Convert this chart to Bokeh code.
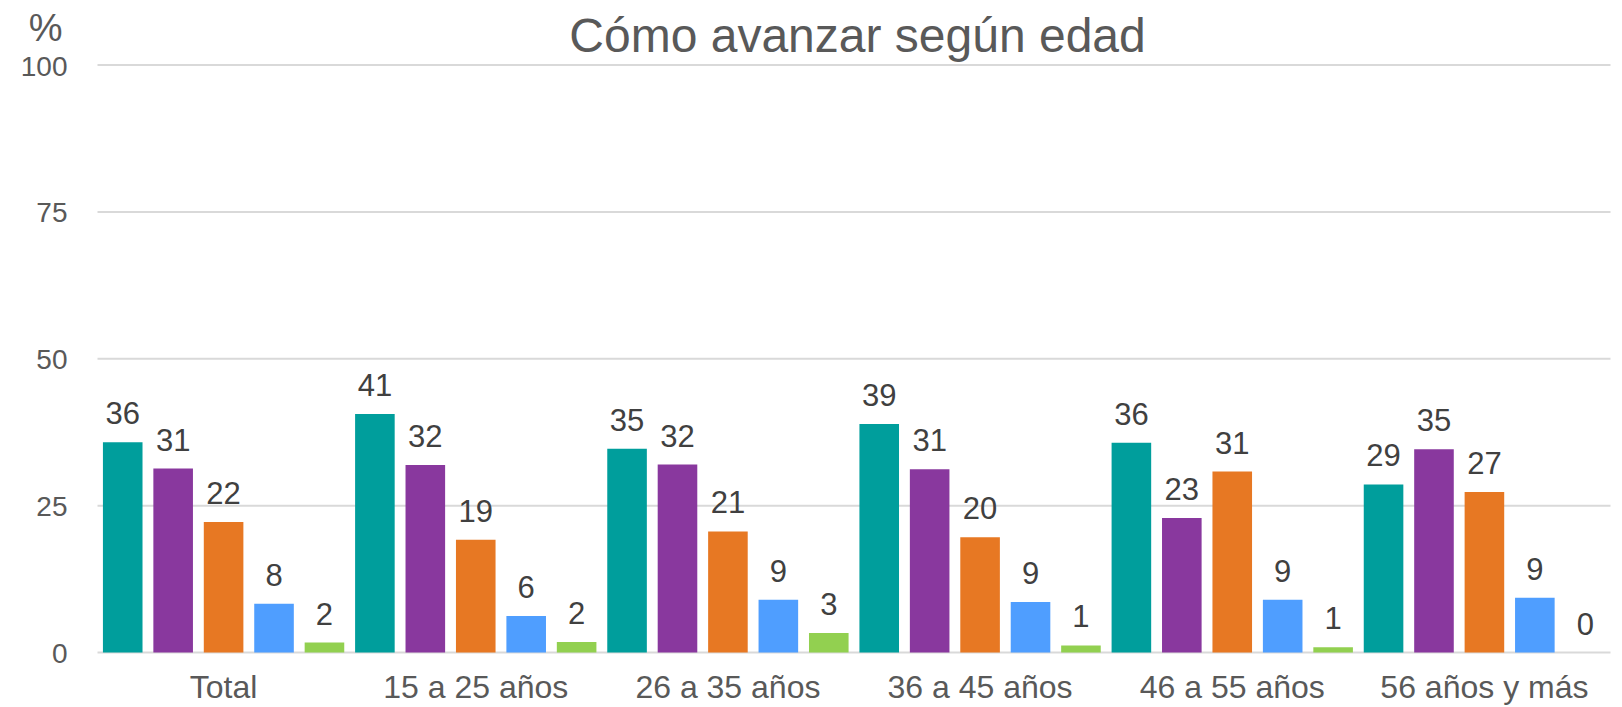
from bokeh.plotting import figure
from bokeh.models import ColumnDataSource, LabelSet, Label, Range1d
from bokeh.core.properties import value
from bokeh.embed import file_html
from bokeh.resources import INLINE

categories = ["Total", "15 a 25 años", "26 a 35 años", "36 a 45 años", "46 a 55 años", "56 años y más"]
series_names = ["Serie 1", "Serie 2", "Serie 3", "Serie 4", "Serie 5"]
serie_1 = [35.8, 40.6, 34.7, 38.9, 35.7, 28.6]
serie_2 = [31.3, 31.9, 32.0, 31.2, 22.9, 34.6]
serie_3 = [22.2, 19.2, 20.6, 19.6, 30.8, 27.3]
serie_4 = [8.3, 6.2, 9.0, 8.6, 9.0, 9.3]
serie_5 = [1.7, 1.8, 3.3, 1.2, 0.9, 0.0]
y_ticks = [0, 25, 50, 75, 100]
title_text = "Cómo avanzar según edad"
unit_text = "%"

colors = ["#009E9C", "#89389E", "#E77823", "#4F9EFF", "#92D050"]
offsets = [0.1, 0.3, 0.5, 0.7, 0.9]
bar_w = 0.157
FONT = "Liberation Sans"
n_cat = len(categories)

p = figure(width=1622, height=707, output_backend="svg", toolbar_location=None,
           x_axis_location=None, y_axis_location=None,
           x_range=Range1d(-0.3847, n_cat + 0.0476), y_range=Range1d(-9.36, 110.98),
           min_border_left=0, min_border_right=0, min_border_top=0, min_border_bottom=0)
p.outline_line_color = None
p.background_fill_color = "white"
p.border_fill_color = "white"
p.grid.visible = False

# horizontal grid lines spanning the category area
p.segment(x0=[0] * len(y_ticks), x1=[n_cat] * len(y_ticks), y0=y_ticks, y1=y_ticks,
          line_color="#D9D9D9", line_width=2, level="underlay")

all_series = [serie_1, serie_2, serie_3, serie_4, serie_5]
for j, vals in enumerate(all_series):
    xs = [i + offsets[j] for i in range(n_cat)]
    src = ColumnDataSource(dict(x=xs, top=vals, lab=[str(int(round(v))) for v in vals]))
    p.vbar(x="x", top="top", bottom=0, width=bar_w, source=src,
           fill_color=colors[j], line_color=None)
    p.add_layout(LabelSet(x="x", y="top", text="lab", source=src, y_offset=18,
                          text_align="center", text_baseline="alphabetic",
                          text_font=value(FONT), text_font_size="31px",
                          text_color="#404040"))

# category labels under the baseline
centers = [i + 0.5 for i in range(n_cat)]
cat_src = ColumnDataSource(dict(x=centers, y=[0] * n_cat, name=categories))
p.add_layout(LabelSet(x="x", y="y", text="name", source=cat_src, y_offset=-45,
                      text_align="center", text_baseline="alphabetic",
                      text_font=value(FONT), text_font_size="32px", text_color="#595959"))

# y tick labels
tick_src = ColumnDataSource(dict(x=[0] * len(y_ticks), y=y_ticks, t=[str(t) for t in y_ticks]))
p.add_layout(LabelSet(x="x", y="y", text="t", source=tick_src, x_offset=-30, y_offset=-1,
                      text_align="right", text_baseline="middle",
                      text_font=value(FONT), text_font_size="28px", text_color="#595959"))

p.add_layout(Label(x=-0.206, y=106.38, text=unit_text, text_align="center",
                   text_baseline="alphabetic", text_font=FONT, text_font_size="38px",
                   text_color="#595959"))

p.add_layout(Label(x=3.014, y=105.02, text=title_text, text_align="center",
                   text_baseline="alphabetic", text_font=FONT, text_font_size="48px",
                   text_color="#595959"))

open("out.html", "w").write(file_html(p, INLINE))
